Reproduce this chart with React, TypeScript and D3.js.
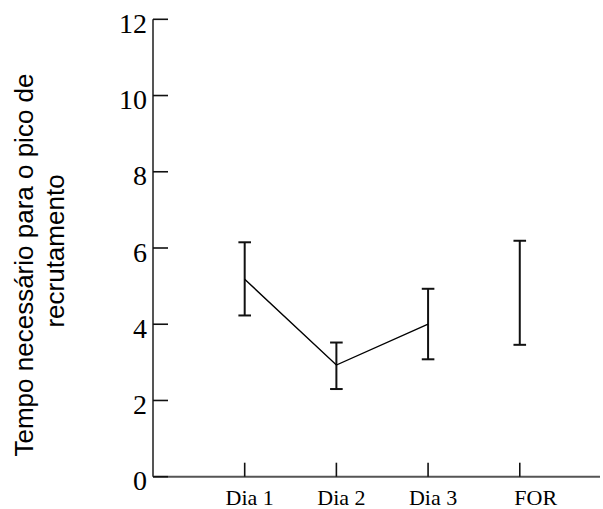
import React from "react";
import * as d3 from "d3";

const categories = ["Dia 1", "Dia 2", "Dia 3", "FOR"];
const means = [5.18, 2.93, 4.0, null];
const upper = [6.15, 3.52, 4.93, 6.19];
const lower = [4.23, 2.3, 3.08, 3.46];
const yTicks = [0, 2, 4, 6, 8, 10, 12];
const yTitleLines = ["Tempo necessário para o pico de", "recrutamento"];

const W = 603;
const H = 509;
const x0 = 153;
const x1 = 600;
const yBottom = 476.7;
const yTop = 19.3;
const labelDx = [5, 5, 5, 16];
const titleDx = [0, 14];
const SERIF = "Liberation Serif, Times New Roman, Times, serif";
const SANS = "Liberation Sans, Arial, Helvetica, sans-serif";

export default function App() {
  const y = d3.scaleLinear().domain([0, 12]).range([yBottom, yTop]);
  const x = d3.scaleLinear().domain([0, 4.875]).range([x0, x1]);
  const cx = (i: number) => x(i + 1);

  const lineGen = d3
    .line<number | null>()
    .defined((d) => d !== null)
    .x((_, i) => cx(i))
    .y((d) => y(d as number));

  const cap = 6.3;

  return (
    <svg
      width={W}
      height={H}
      style={{ position: "absolute", left: 0, top: 0, background: "#fff" }}
    >
      <line x1={x0} x2={x0} y1={yTop} y2={yBottom} stroke="#555" strokeWidth={2} />
      <line x1={x0} x2={x1} y1={yBottom} y2={yBottom} stroke="#555" strokeWidth={2} />
      {yTicks.map((t) => (
        <g key={t}>
          <line x1={x0} x2={x0 + 15} y1={y(t)} y2={y(t)} stroke="#111" strokeWidth={1.6} />
          <text
            x={147}
            y={y(t) + 13.5}
            textAnchor="end"
            style={{ fontFamily: SERIF, fontSize: 28 }}
            fill="#000"
          >
            {t}
          </text>
        </g>
      ))}
      {categories.map((c, i) => (
        <g key={c}>
          <line x1={cx(i)} x2={cx(i)} y1={yBottom} y2={yBottom - 14} stroke="#111" strokeWidth={1.6} />
          <text
            x={cx(i) + labelDx[i]}
            y={505}
            textAnchor="middle"
            style={{ fontFamily: SERIF, fontSize: 22 }}
            fill="#000"
          >
            {c}
          </text>
        </g>
      ))}
      {categories.map((c, i) => (
        <g key={"eb" + c} stroke="#111" strokeWidth={2}>
          <line x1={cx(i)} x2={cx(i)} y1={y(upper[i])} y2={y(lower[i])} />
          <line x1={cx(i) - cap} x2={cx(i) + cap} y1={y(upper[i])} y2={y(upper[i])} />
          <line x1={cx(i) - cap} x2={cx(i) + cap} y1={y(lower[i])} y2={y(lower[i])} />
        </g>
      ))}
      <path d={lineGen(means) || ""} fill="none" stroke="#000" strokeWidth={1.4} />
      <g transform="translate(0,265) rotate(-90)">
        {yTitleLines.map((l, i) => (
          <text
            key={i}
            x={titleDx[i]}
            y={33 + i * 31}
            textAnchor="middle"
            style={{ fontFamily: SANS, fontSize: 26 }}
            fill="#000"
          >
            {l}
          </text>
        ))}
      </g>
    </svg>
  );
}
